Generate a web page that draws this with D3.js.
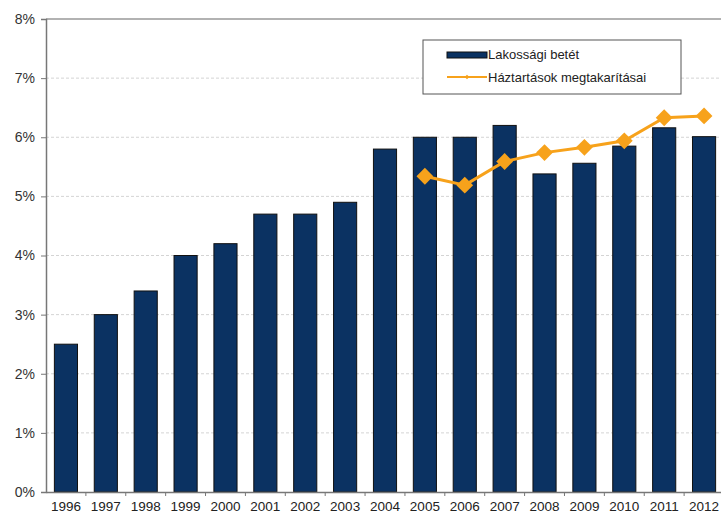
<!doctype html>
<html lang="hu">
<head>
 <meta charset="utf-8">
 <title>Lakossági betét</title>
 <style>
 body{margin:0;background:#fff;}
 svg{display:block;font-family:"Liberation Sans",Arial,sans-serif;}
 </style>
 <script src="https://cdnjs.cloudflare.com/ajax/libs/d3/7.8.5/d3.min.js"></script>
</head>
<body>
 <svg width="721" height="516"></svg>
 <script>

 const years=["1996","1997","1998","1999","2000","2001","2002","2003","2004","2005","2006","2007","2008","2009","2010","2011","2012"];
 const deposits=[2.5,3.0,3.4,4.0,4.2,4.7,4.7,4.9,5.8,6.0,6.0,6.2,5.38,5.56,5.85,6.16,6.01];
 const savingYears=["2005","2006","2007","2008","2009","2010","2011","2012"];
 const savings=[5.34,5.19,5.59,5.74,5.83,5.94,6.33,6.36];
 const yTicks=[0,1,2,3,4,5,6,7,8];
 const seriesNames=["Lakossági betét","Háztartások megtakarításai"];

 const svg=d3.select("svg");

 const margin={top:19,left:46,bottom:24,right:-3};
 const width=721-margin.left-margin.right;
 const height=516-margin.top-margin.bottom;

 const xScale=d3.scaleBand()
 .domain(years)
 .range([0,width])
 .paddingInner(0.42)
 .paddingOuter(0.21);

 const yScale=d3.scaleLinear()
 .domain([0,8])
 .range([height,0]);

 const g=svg.append("g")
 .attr("transform",`translate(${margin.left},${margin.top})`);

 // gridlines
 g.append("g")
 .selectAll("line")
 .data(yTicks.filter(d=>d>0&&d<8))
 .enter()
 .append("line")
 .attr("x1",0)
 .attr("x2",width)
 .attr("y1",d=>yScale(d))
 .attr("y2",d=>yScale(d))
 .attr("stroke","#d4d4d4")
 .attr("stroke-dasharray","3,2");

 // top border
 g.append("line")
 .attr("x1",0)
 .attr("x2",width)
 .attr("y1",yScale(8))
 .attr("y2",yScale(8))
 .attr("stroke","#999")
 .attr("stroke-width",1.5);

 // bars
 g.selectAll(".bar")
 .data(deposits)
 .enter()
 .append("rect")
 .attr("class","bar")
 .attr("x",(d,i)=>xScale(years[i]))
 .attr("y",d=>yScale(d))
 .attr("width",xScale.bandwidth())
 .attr("height",d=>height-yScale(d))
 .attr("fill","#0b3262")
 .attr("stroke","#111")
 .attr("stroke-width",1);

 // y axis
 const yAxis=d3.axisLeft(yScale)
 .tickValues(yTicks)
 .tickSize(5)
 .tickFormat(d=>d+"%");

 g.append("g")
 .attr("class","yAxis")
 .call(yAxis)
 .call(a=>a.select(".domain").attr("stroke","#777").attr("stroke-width",1.5))
 .call(a=>a.selectAll(".tick line").attr("stroke","#777"))
 .selectAll("text")
 .attr("x",-11)
 .style("font-size","14px")
 .attr("fill","#333");

 // x axis
 const xAxis=d3.axisBottom(xScale)
 .tickSize(0)
 .tickPadding(9);

 const xg=g.append("g")
 .attr("class","xAxis")
 .attr("transform",`translate(0,${height})`)
 .call(xAxis);

 xg.select(".domain").attr("stroke","#777").attr("stroke-width",1.5);
 xg.selectAll("text")
 .style("font-size","13.5px")
 .attr("fill","#222");

 xg.selectAll(".sep")
 .data(years)
 .enter()
 .append("line")
 .attr("class","sep")
 .attr("x1",d=>xScale(d)+xScale.bandwidth()/2+xScale.step()/2)
 .attr("x2",d=>xScale(d)+xScale.bandwidth()/2+xScale.step()/2)
 .attr("y1",0)
 .attr("y2",4)
 .attr("stroke","#777");

 // line
 const cx=d=>xScale(d)+xScale.bandwidth()/2;
 const line=d3.line()
 .x((d,i)=>cx(savingYears[i]))
 .y(d=>yScale(d));

 g.append("path")
 .datum(savings)
 .attr("d",line)
 .attr("fill","none")
 .attr("stroke","#f7a21b")
 .attr("stroke-width",3);

 g.selectAll(".marker")
 .data(savings)
 .enter()
 .append("path")
 .attr("class","marker")
 .attr("d",d3.symbol().type(d3.symbolDiamond2).size(180))
 .attr("transform",(d,i)=>`translate(${cx(savingYears[i])},${yScale(d)})`)
 .attr("fill","#f7a21b");

 // legend
 const lg=svg.append("g")
 .attr("transform","translate(423,40)");

 lg.append("rect")
 .attr("width",258)
 .attr("height",54)
 .attr("fill","#fff")
 .attr("stroke","#555")
 .attr("stroke-width",1);

 lg.append("rect")
 .attr("x",24)
 .attr("y",12)
 .attr("width",40)
 .attr("height",6)
 .attr("fill","#0b3262")
 .attr("stroke","#111");

 lg.append("line")
 .attr("x1",24)
 .attr("x2",64)
 .attr("y1",37)
 .attr("y2",37)
 .attr("stroke","#f7a21b")
 .attr("stroke-width",2);

 lg.append("path")
 .attr("d",d3.symbol().type(d3.symbolDiamond2).size(14))
 .attr("transform","translate(44,37)")
 .attr("fill","#f7a21b");

 lg.selectAll(".label")
 .data(seriesNames)
 .enter()
 .append("text")
 .attr("class","label")
 .attr("x",65)
 .attr("y",(d,i)=>19+i*23)
 .text(d=>d)
 .style("font-size","13px")
 .attr("fill","#222");

 </script>
</body>
</html>
